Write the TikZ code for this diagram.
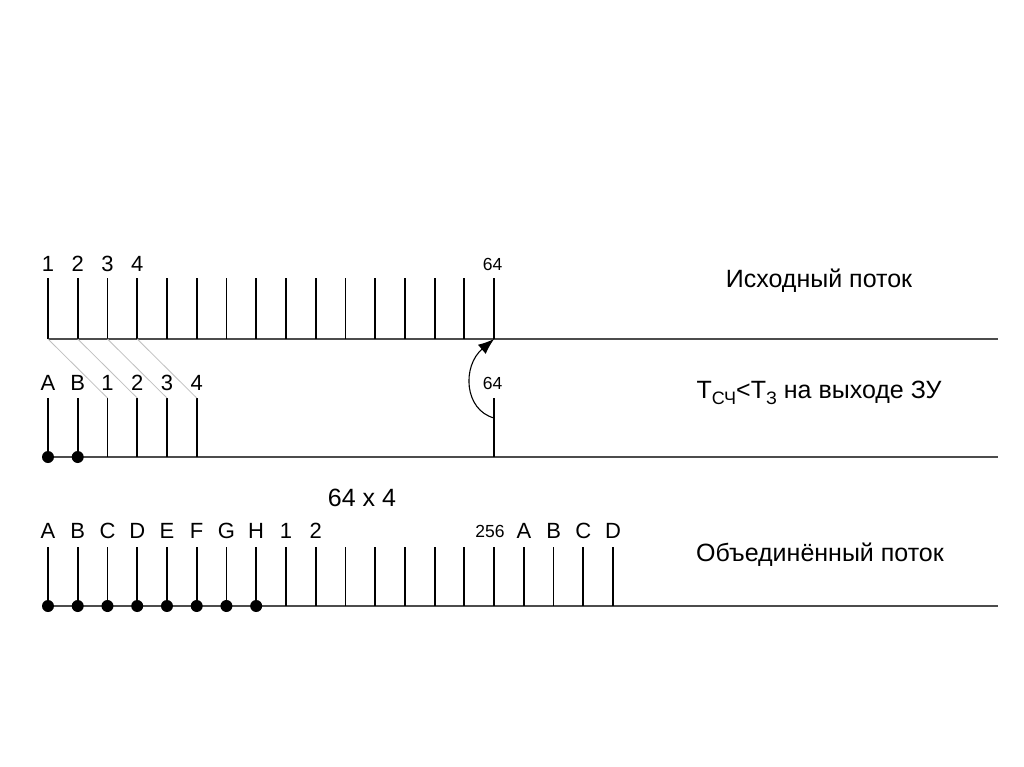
\documentclass[tikz,border=0pt]{standalone}
\usepackage{fontspec}
\setmainfont{Liberation Sans}
\usetikzlibrary{arrows.meta}
\begin{document}
\begin{tikzpicture}[x=1pt,y=-1pt,
  tick/.style={line width=1.8pt,black},
  baseln/.style={line width=1.6pt,black!70},
  diag/.style={line width=0.8pt,black!25},
  lbl/.style={anchor=base,inner sep=0pt,font=\fontsize{22}{24}\selectfont},
  sml/.style={anchor=base,inner sep=0pt,font=\fontsize{17.5}{20}\selectfont},
  txt/.style={anchor=base,inner sep=0pt,font=\fontsize{25}{28}\selectfont},
  dot/.style={circle,fill=black,inner sep=0pt,minimum size=12pt}]
\useasboundingbox[fill=white] (0,0) rectangle (1024,767);
\def\dx{29.74}
% ---------- Row 1 ----------
\coordinate (r1L) at (48,339); \coordinate (r1R) at (998,339);
\draw[baseln] (r1L) -- (r1R);
\foreach \i in {0,...,15}{
  \coordinate (a\i) at (48+\i*\dx,339);
  \coordinate (at\i) at (48+\i*\dx,278);
  \draw[tick] (at\i) -- (a\i);
}
\foreach \i/\t in {0/1,1/2,2/3,3/4}{
  \node[lbl] (la\i) at (48+\i*\dx,271) {\t};
}
\node[sml] (la15) at (492.5,270) {64};
\node[txt] (t1) at (819,287) {Исходный поток};
% ---------- Row 2 ----------
\coordinate (r2L) at (48,457); \coordinate (r2R) at (998,457);
\draw[baseln] (r2L) -- (r2R);
\foreach \i in {0,...,5}{
  \coordinate (b\i) at (48+\i*\dx,457);
  \coordinate (bt\i) at (48+\i*\dx,398);
  \draw[tick] (bt\i) -- (b\i);
}
\coordinate (b15) at (48+15*\dx,457);
\coordinate (bt15) at (48+15*\dx,398);
\draw[tick] (bt15) -- (b15);
\foreach \i/\t in {0/A,1/B,2/1,3/2,4/3,5/4}{
  \node[lbl] (lb\i) at (48+\i*\dx,390) {\t};
}
\node[sml] (lb15) at (492.5,389) {64};
\node[dot] (db0) at (b0) {};
\node[dot] (db1) at (b1) {};
\foreach \i/\j in {0/2,1/3,2/4,3/5}{
  \draw[diag] (a\i) -- (bt\j);
}
\coordinate (c64) at (48+15*\dx,418);
\draw[line width=1.1pt,-{Latex[length=16pt,width=12pt]}] (c64) .. controls (464,410) and (462,366) .. (a15);
\node[txt] (t2) at (819,398) {Т\raisebox{-6pt}{\fontsize{18}{20}\selectfont СЧ}<Т\raisebox{-6pt}{\fontsize{18}{20}\selectfont З} на выходе ЗУ};
% ---------- Row 3 ----------
\coordinate (r3L) at (48,606); \coordinate (r3R) at (998,606);
\draw[baseln] (r3L) -- (r3R);
\foreach \i in {0,...,19}{
  \coordinate (c\i) at (48+\i*\dx,606);
  \coordinate (ct\i) at (48+\i*\dx,547);
  \draw[tick] (ct\i) -- (c\i);
}
\foreach \i/\t in {0/A,1/B,2/C,3/D,4/E,5/F,6/G,7/H,8/1,9/2,16/A,17/B,18/C,19/D}{
  \node[lbl] (lc\i) at (48+\i*\dx,538) {\t};
}
\node[sml] (lc15) at (490,537) {256};
\foreach \i in {0,...,7}{
  \node[dot] (dc\i) at (c\i) {};
}
\node[txt] (t64) at (362,506) {64 x 4};
\node[txt] (t3) at (820,561) {Объединённый поток};
\end{tikzpicture}
\end{document}
